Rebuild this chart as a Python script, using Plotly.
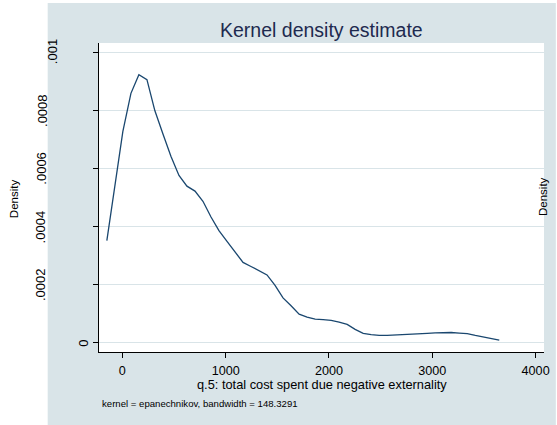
import plotly.graph_objects as go

# ---- data ----
x_vals = [-150, -72, 5, 83, 160, 238, 315, 393, 470, 548, 625, 703, 780, 858, 935,
          1013, 1090, 1168, 1245, 1323, 1400, 1478, 1555, 1633, 1711, 1788, 1866,
          1943, 2021, 2098, 2176, 2253, 2331, 2408, 2486, 2563, 2641, 2718, 2796,
          2873, 2951, 3028, 3106, 3183, 3261, 3338, 3416, 3493, 3571, 3648]
density = [0.000352, 0.000548, 0.000727, 0.000858, 0.000922, 0.000905, 0.000798,
           0.000718, 0.000642, 0.000576, 0.000539, 0.000522, 0.000487, 0.000433,
           0.000386, 0.000349, 0.000313, 0.000277, 0.000263, 0.000249, 0.000234,
           0.000198, 0.000155, 0.000128, 0.000099, 0.000089, 0.000082, 0.000080,
           0.000078, 0.000072, 0.000064, 0.000047, 0.000033, 0.000029, 0.000026,
           0.000026, 0.000027, 0.000028, 0.000030, 0.000032, 0.000033, 0.000035,
           0.000036, 0.000036, 0.000034, 0.000032, 0.000026, 0.000021, 0.000015,
           0.000010]
x_ticks = [0, 1000, 2000, 3000, 4000]
x_tick_labels = ["0", "1000", "2000", "3000", "4000"]
y_ticks = [0, 0.0002, 0.0004, 0.0006, 0.0008, 0.001]
y_tick_labels = ["0", ".0002", ".0004", ".0006", ".0008", ".001"]

title_text = "Kernel density estimate"
x_title = "q.5: total cost spent due negative externality"
y_title = "Density"
note_text = "kernel = epanechnikov, bandwidth = 148.3291"

# ---- layout geometry (pixels) ----
W, H = 557, 425
PL, PR, PT, PB = 99, 550, 43, 352
pw, ph = PR - PL, PB - PT


def px(xp):
    return (xp - PL) / pw


def py(yp):
    return (PB - yp) / ph


FONT = "Liberation Sans, Arial, Helvetica, sans-serif"
BG = "#D9E4E8"
GRID = "#D9E4E8"
LINE = "#1a476f"

fig = go.Figure()
fig.add_trace(go.Scatter(x=x_vals, y=density, mode="lines",
                         line=dict(color=LINE, width=1.3), showlegend=False,
                         hoverinfo="skip"))

shapes = [
    # graph region background
    dict(type="rect", xref="paper", yref="paper", x0=px(47), x1=px(W + 5),
         y0=py(H + 5), y1=py(3), fillcolor=BG, line=dict(width=0), layer="below"),
    # plot region
    dict(type="rect", xref="paper", yref="paper", x0=0, x1=1, y0=0, y1=1,
         fillcolor="white", line=dict(width=0), layer="below"),
]

annotations = [
    dict(text=title_text, xref="paper", yref="paper", x=px(324.5), y=py(30),
         xanchor="center", yanchor="middle", showarrow=False,
         font=dict(family=FONT, size=19.5, color="#1e2a4f")),
    dict(text=x_title, xref="paper", yref="paper", x=px(325.5), y=py(384),
         xanchor="center", yanchor="middle", showarrow=False,
         font=dict(family=FONT, size=12.8, color="black")),
    dict(text=note_text, xref="paper", yref="paper", x=px(100), y=py(403),
         xanchor="left", yanchor="middle", showarrow=False,
         font=dict(family=FONT, size=9.6, color="black")),
    dict(text=y_title, xref="paper", yref="paper", x=px(13), y=py(199),
         xanchor="center", yanchor="middle", showarrow=False, textangle=-90,
         font=dict(family=FONT, size=11.5, color="black")),
    dict(text=y_title, xref="paper", yref="paper", x=px(549), y=py(197),
         xanchor="center", yanchor="middle", showarrow=False, textangle=-90,
         font=dict(family=FONT, size=11.5, color="black")),
]

y_label_x = {"0": 83.5, ".0002": 40.5, ".0004": 40, ".0006": 40.5, ".0008": 41, ".001": 51.5}
for v, lab in zip(y_ticks, y_tick_labels):
    annotations.append(dict(text=lab, xref="paper", yref="y", x=px(y_label_x[lab]), y=v,
                            xanchor="center", yanchor="middle", showarrow=False,
                            textangle=-90,
                            font=dict(family=FONT, size=13, color="black")))

fig.update_layout(
    width=W, height=H,
    margin=dict(l=PL, r=W - PR, t=PT, b=H - PB, pad=0),
    paper_bgcolor="white", plot_bgcolor="white",
    shapes=shapes, annotations=annotations,
    xaxis=dict(range=[-226, 4081], tickvals=x_ticks, ticktext=x_tick_labels,
               showgrid=False, zeroline=False, showline=True, linecolor="black",
               linewidth=1.3, ticks="outside", ticklen=5, tickcolor="black",
               tickwidth=1, tickfont=dict(family=FONT, size=12.6, color="black"),
               ticklabelstandoff=2),
    yaxis=dict(range=[-0.000031, 0.001031], tickvals=y_ticks, showticklabels=False,
               showgrid=True, gridcolor=GRID, gridwidth=1, zeroline=False,
               showline=True, linecolor="black", linewidth=1.3, ticks="outside",
               ticklen=5, tickcolor="black", tickwidth=1),
    font=dict(family=FONT),
)

fig.write_html("out.html")
